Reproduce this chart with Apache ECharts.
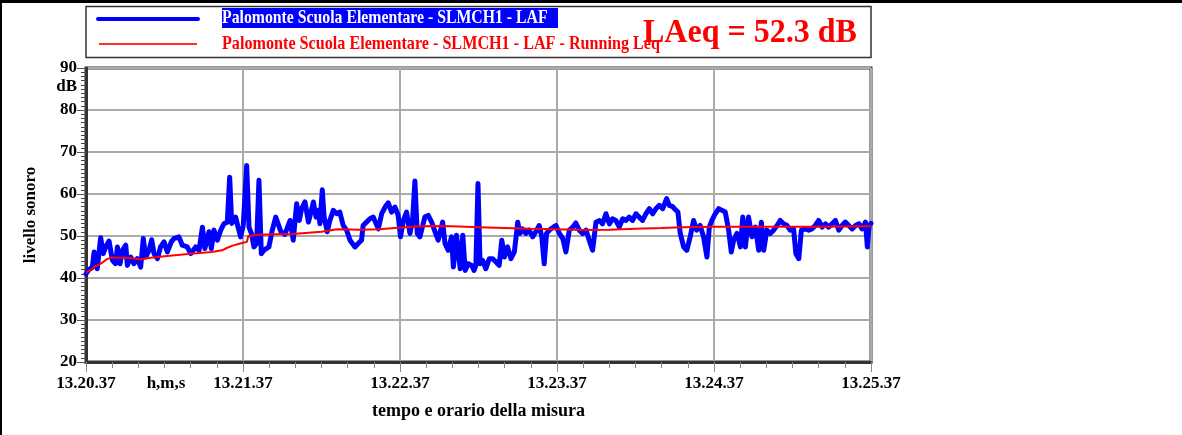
<!DOCTYPE html>
<html><head><meta charset="utf-8">
<script src="https://cdn.jsdelivr.net/npm/echarts@6.0.0/dist/echarts.min.js"></script>
<style>html,body{margin:0;padding:0;background:#fff}#c{width:1182px;height:435px}</style>
</head><body><div id="c"></div>
<script>
const xTickLabels = ['13.20.37','13.21.37','13.22.37','13.23.37','13.24.37','13.25.37'];
const seriesNames = ['Palomonte Scuola Elementare - SLMCH1 - LAF', 'Palomonte Scuola Elementare - SLMCH1 - LAF - Running Leq'];
const laeqText = 'LAeq = 52.3 dB';
const yAxisTitle = 'livello sonoro';
const xAxisTitle = 'tempo e orario della misura';
const yUnit = 'dB';
const xUnit = 'h,m,s';

// LAF (seconds from 13.20.37, dB)
const lafSeconds = [0,1.1,2.4,3.1,4.3,5.6,6.6,7.5,8.8,10.1,11.3,12,13,13.9,15.2,15.8,17.1,18.3,19.6,20.9,21.9,22.8,24.1,25.1,26,27.3,28.5,29.8,31.1,32.6,33.6,35.5,36.8,38.7,40,41.9,43.2,44.5,45.4,47,47.9,48.9,50.2,51.5,52.7,54,54.9,55.7,57.2,58.1,59.1,60.1,61.4,62.3,63.2,64.2,65.2,66.1,67,68,69.9,71.2,72.5,74.5,76,78,79.2,80.5,81.5,82.4,83.7,85,86.3,86.9,87.9,88.8,89.4,90.3,91,92.2,93.2,94.5,95.8,97,98.3,99.6,100.9,102.8,104,105.3,105.9,107.2,108.5,109.8,111.7,113,114.3,115.5,116.8,118.1,119.3,120.2,121.3,122.5,123.8,124.8,125.7,126.6,127.6,129.5,130.8,132.1,133.4,134.6,136.3,137.2,138.4,139.7,140.4,141.6,143,144,144.9,146.1,147.4,148.3,149,149.8,150.6,151.6,152.8,154.1,155.4,156.7,157.9,158.9,159.9,161.1,162.4,163.7,165,165.8,166.8,168.1,169.4,170.7,171.9,173.2,174.2,175.1,176,177.1,178.6,179.6,180.9,182.2,183.4,184.7,186,187.2,188.5,189.8,191.1,192.3,193.6,194.9,196.2,197.4,198.7,200,201.2,202.5,203.8,205.1,206.3,207.6,208.9,210.2,211.4,212.7,214,215.3,216.6,217.8,219.1,220.4,221.9,222.9,224.2,225.2,226.2,227.1,228.4,229.6,230.9,232.2,233.4,234.7,236,237.3,238.2,239.2,240.5,241.8,243.1,244.3,245.6,246.6,247.5,248.8,250.1,251,252,253.2,254.5,255.8,257.1,258.1,259,260.2,261.5,262.8,264.1,265.3,266.6,267.9,269.1,270.4,271.3,272.4,273.4,274.9,276.2,277.4,278.7,280,281.3,282.6,283.8,285.1,286.4,287.7,288.9,290.2,291.5,292.8,294.1,295.4,296.6,297.9,298.6,299.3,300];
const lafLevels = [41,42,42.5,46.2,42.2,49.6,45.8,47.4,48.8,44.2,43.4,47.4,43.4,46.6,47.8,43,45,43.4,44.6,42.6,49.4,45,46.6,49.1,45.8,44.6,47.4,48.6,46.2,48.6,49.4,49.8,47.8,47.4,45.8,47.4,46.6,52.1,47,51,47,51.4,49,51.4,52.9,53.3,64,53,54.5,52.1,49.8,52.5,66.8,52.1,50.6,47.4,48.2,63.3,45.8,46.6,47.4,51.4,54.5,51,50.4,53.7,49,57.7,53.7,56.5,58.1,53.3,56.5,58.1,54.5,56.1,52.9,61,54.5,51,53.7,56.1,55.3,55.7,52.5,51.4,49,47.4,48.2,49,52.5,53.3,54.1,54.5,51.7,55.3,56.9,57.9,55.7,56.9,54.9,49.8,53.7,55.7,50.6,53.7,63.1,50.6,49.8,54.5,54.9,53.3,51,49,53.3,48.2,46.6,49.8,42.6,50.2,42.2,50.2,41.8,43.4,43,41.8,43,62.5,43.4,44.2,42.2,44.6,44.6,43.8,43,49,45,47.4,44.6,46.2,53.3,50.6,51.7,50.6,51.4,49.8,51,52.5,49.8,43.4,50.6,51.4,52.1,52.5,50.6,49.4,46.2,51.4,52.1,53.1,51.4,50.6,51.4,49,46.6,53.3,53.7,52.9,55.3,52.9,54.1,53.7,52.1,54.1,53.7,54.5,53.7,55.3,54.5,53.7,55.3,56.5,55.3,56.5,57.3,56.5,58.9,57.3,57,56.3,55.7,50.6,47.4,46.6,49.8,53.7,51.4,52.5,49.8,45,52.1,53.7,55.3,56.5,56.1,55.7,51.4,46.2,49,50.6,47.4,54.5,47.4,54.5,49.8,52.1,46.6,53.3,46.6,51.4,50.6,51.4,52.5,53.7,52.9,52.5,51.4,51.7,45.8,44.6,51.4,51.7,51.4,51.7,52.5,53.7,52.1,52.9,52.1,52.9,53.7,51.4,52.5,53.3,52.5,51.7,52.5,52.9,51.7,53.3,47.4,52.5,53];

// Running Leq (seconds, dB)
const leqSeconds = [0,2,3.5,5,6.5,8,10,14,18,21,23,30,40,48,52,54,56,60,61.5,62,66,72,79,90,96,105,112,118,125,132,140,150,160,170,180,190,200,210,220,228,240,260,280,300];
const leqLevels = [41.3,42,42.8,43.2,43.8,44.5,44.9,44.8,44.7,44.4,44.7,45.2,45.8,46.2,46.6,47.2,47.7,48.4,48.6,50,50.3,50.4,50.5,51,51.6,51.5,51.6,51.9,52.2,52.4,52.3,52.1,51.9,51.7,51.6,51.4,51.5,51.7,51.9,52.1,52.2,52.2,52.2,52.3];

const FONT = '"Liberation Serif", "Times New Roman", serif';
const lafData = lafSeconds.map((s, i) => [s, lafLevels[i]]);
const leqData = leqSeconds.map((s, i) => [s, leqLevels[i]]);

const chart = echarts.init(document.getElementById('c'), null, {renderer: 'canvas'});
chart.setOption({
  animation: false,
  backgroundColor: '#fff',
  grid: {left: 86, right: 311, top: 68, bottom: 73, show: true, borderColor: '#333', borderWidth: 3, backgroundColor: 'transparent'},
  xAxis: {
    type: 'value', min: 0, max: 300, interval: 60,
    name: xAxisTitle, nameLocation: 'middle', nameGap: 40,
    nameTextStyle: {fontFamily: FONT, fontWeight: 'bold', fontSize: 18, color: '#000'},
    axisLine: {show: true, onZero: false, lineStyle: {color: '#333', width: 3}},
    axisTick: {show: true, length: 10, lineStyle: {color: '#888', width: 1}},
    minorTick: {show: true, splitNumber: 6, length: 6, lineStyle: {color: '#888', width: 1}},
    axisLabel: {showMinLabel: true, showMaxLabel: true, margin: 13, fontFamily: FONT, fontWeight: 'bold', fontSize: 17, color: '#000',
      formatter: v => xTickLabels[Math.round(v / 60)]},
    splitLine: {show: true, lineStyle: {color: '#aaa', width: 2}}
  },
  yAxis: {
    type: 'value', min: 20, max: 90, interval: 10,
    name: yAxisTitle, nameLocation: 'middle', nameGap: 47,
    nameTextStyle: {fontFamily: FONT, fontWeight: 'bold', fontSize: 17, color: '#000'},
    axisLine: {show: true, lineStyle: {color: '#333', width: 3}},
    axisTick: {show: true, length: 9, lineStyle: {color: '#555', width: 1}},
    minorTick: {show: true, splitNumber: 10, length: 5, lineStyle: {color: '#444', width: 1}},
    axisLabel: {margin: 9, fontFamily: FONT, fontWeight: 'bold', fontSize: 17, color: '#000'},
    splitLine: {show: true, lineStyle: {color: '#aaa', width: 2}}
  },
  series: [
    {name: seriesNames[0], type: 'line', data: lafData, showSymbol: false, symbol: 'none', z: 2,
      lineStyle: {color: '#0000ff', width: 5, join: 'round', cap: 'round'}, itemStyle: {color: '#0000ff'}},
    {name: seriesNames[1], type: 'line', data: leqData, showSymbol: false, symbol: 'none', z: 3,
      lineStyle: {color: '#ff0000', width: 2}, itemStyle: {color: '#ff0000'}}
  ],
  graphic: [
    {type: 'rect', shape: {x: 0, y: 0, width: 1182, height: 3}, style: {fill: '#000'}, silent: true},
    {type: 'rect', shape: {x: 0, y: 0, width: 2, height: 435}, style: {fill: '#000'}, silent: true},
    {type: 'rect', shape: {x: 86, y: 6.5, width: 785, height: 51}, style: {fill: 'none', stroke: '#333', lineWidth: 1.5}, silent: true},
    {type: 'line', shape: {x1: 98, y1: 19, x2: 198, y2: 19}, style: {stroke: '#0000ff', lineWidth: 4, lineCap: 'round'}, silent: true},
    {type: 'line', shape: {x1: 99, y1: 44, x2: 197, y2: 44}, style: {stroke: '#ff3030', lineWidth: 2}, silent: true},
    {type: 'rect', shape: {x: 222, y: 8, width: 336, height: 20}, style: {fill: '#0000ff'}, silent: true},
    {type: 'text', x: 222, y: 18, scaleX: 0.83, silent: true,
      style: {text: seriesNames[0], fill: '#fff', fontFamily: FONT, fontWeight: 'bold', fontSize: 19, align: 'left', verticalAlign: 'middle'}},
    {type: 'text', x: 222, y: 44, scaleX: 0.85, silent: true,
      style: {text: seriesNames[1], fill: '#ff0000', fontFamily: FONT, fontWeight: 'bold', fontSize: 19, align: 'left', verticalAlign: 'middle'}},
    {type: 'text', x: 643, y: 33, scaleX: 0.97, silent: true,
      style: {text: laeqText, fill: '#ff0000', fontFamily: FONT, fontWeight: 'bold', fontSize: 33, align: 'left', verticalAlign: 'middle'}},
    {type: 'text', x: 77, y: 87, silent: true,
      style: {text: yUnit, fill: '#000', fontFamily: FONT, fontWeight: 'bold', fontSize: 17, align: 'right', verticalAlign: 'middle'}},
    {type: 'text', x: 166, y: 384, silent: true,
      style: {text: xUnit, fill: '#000', fontFamily: FONT, fontWeight: 'bold', fontSize: 17, align: 'center', verticalAlign: 'middle'}}
  ]
});
</script></body></html>
